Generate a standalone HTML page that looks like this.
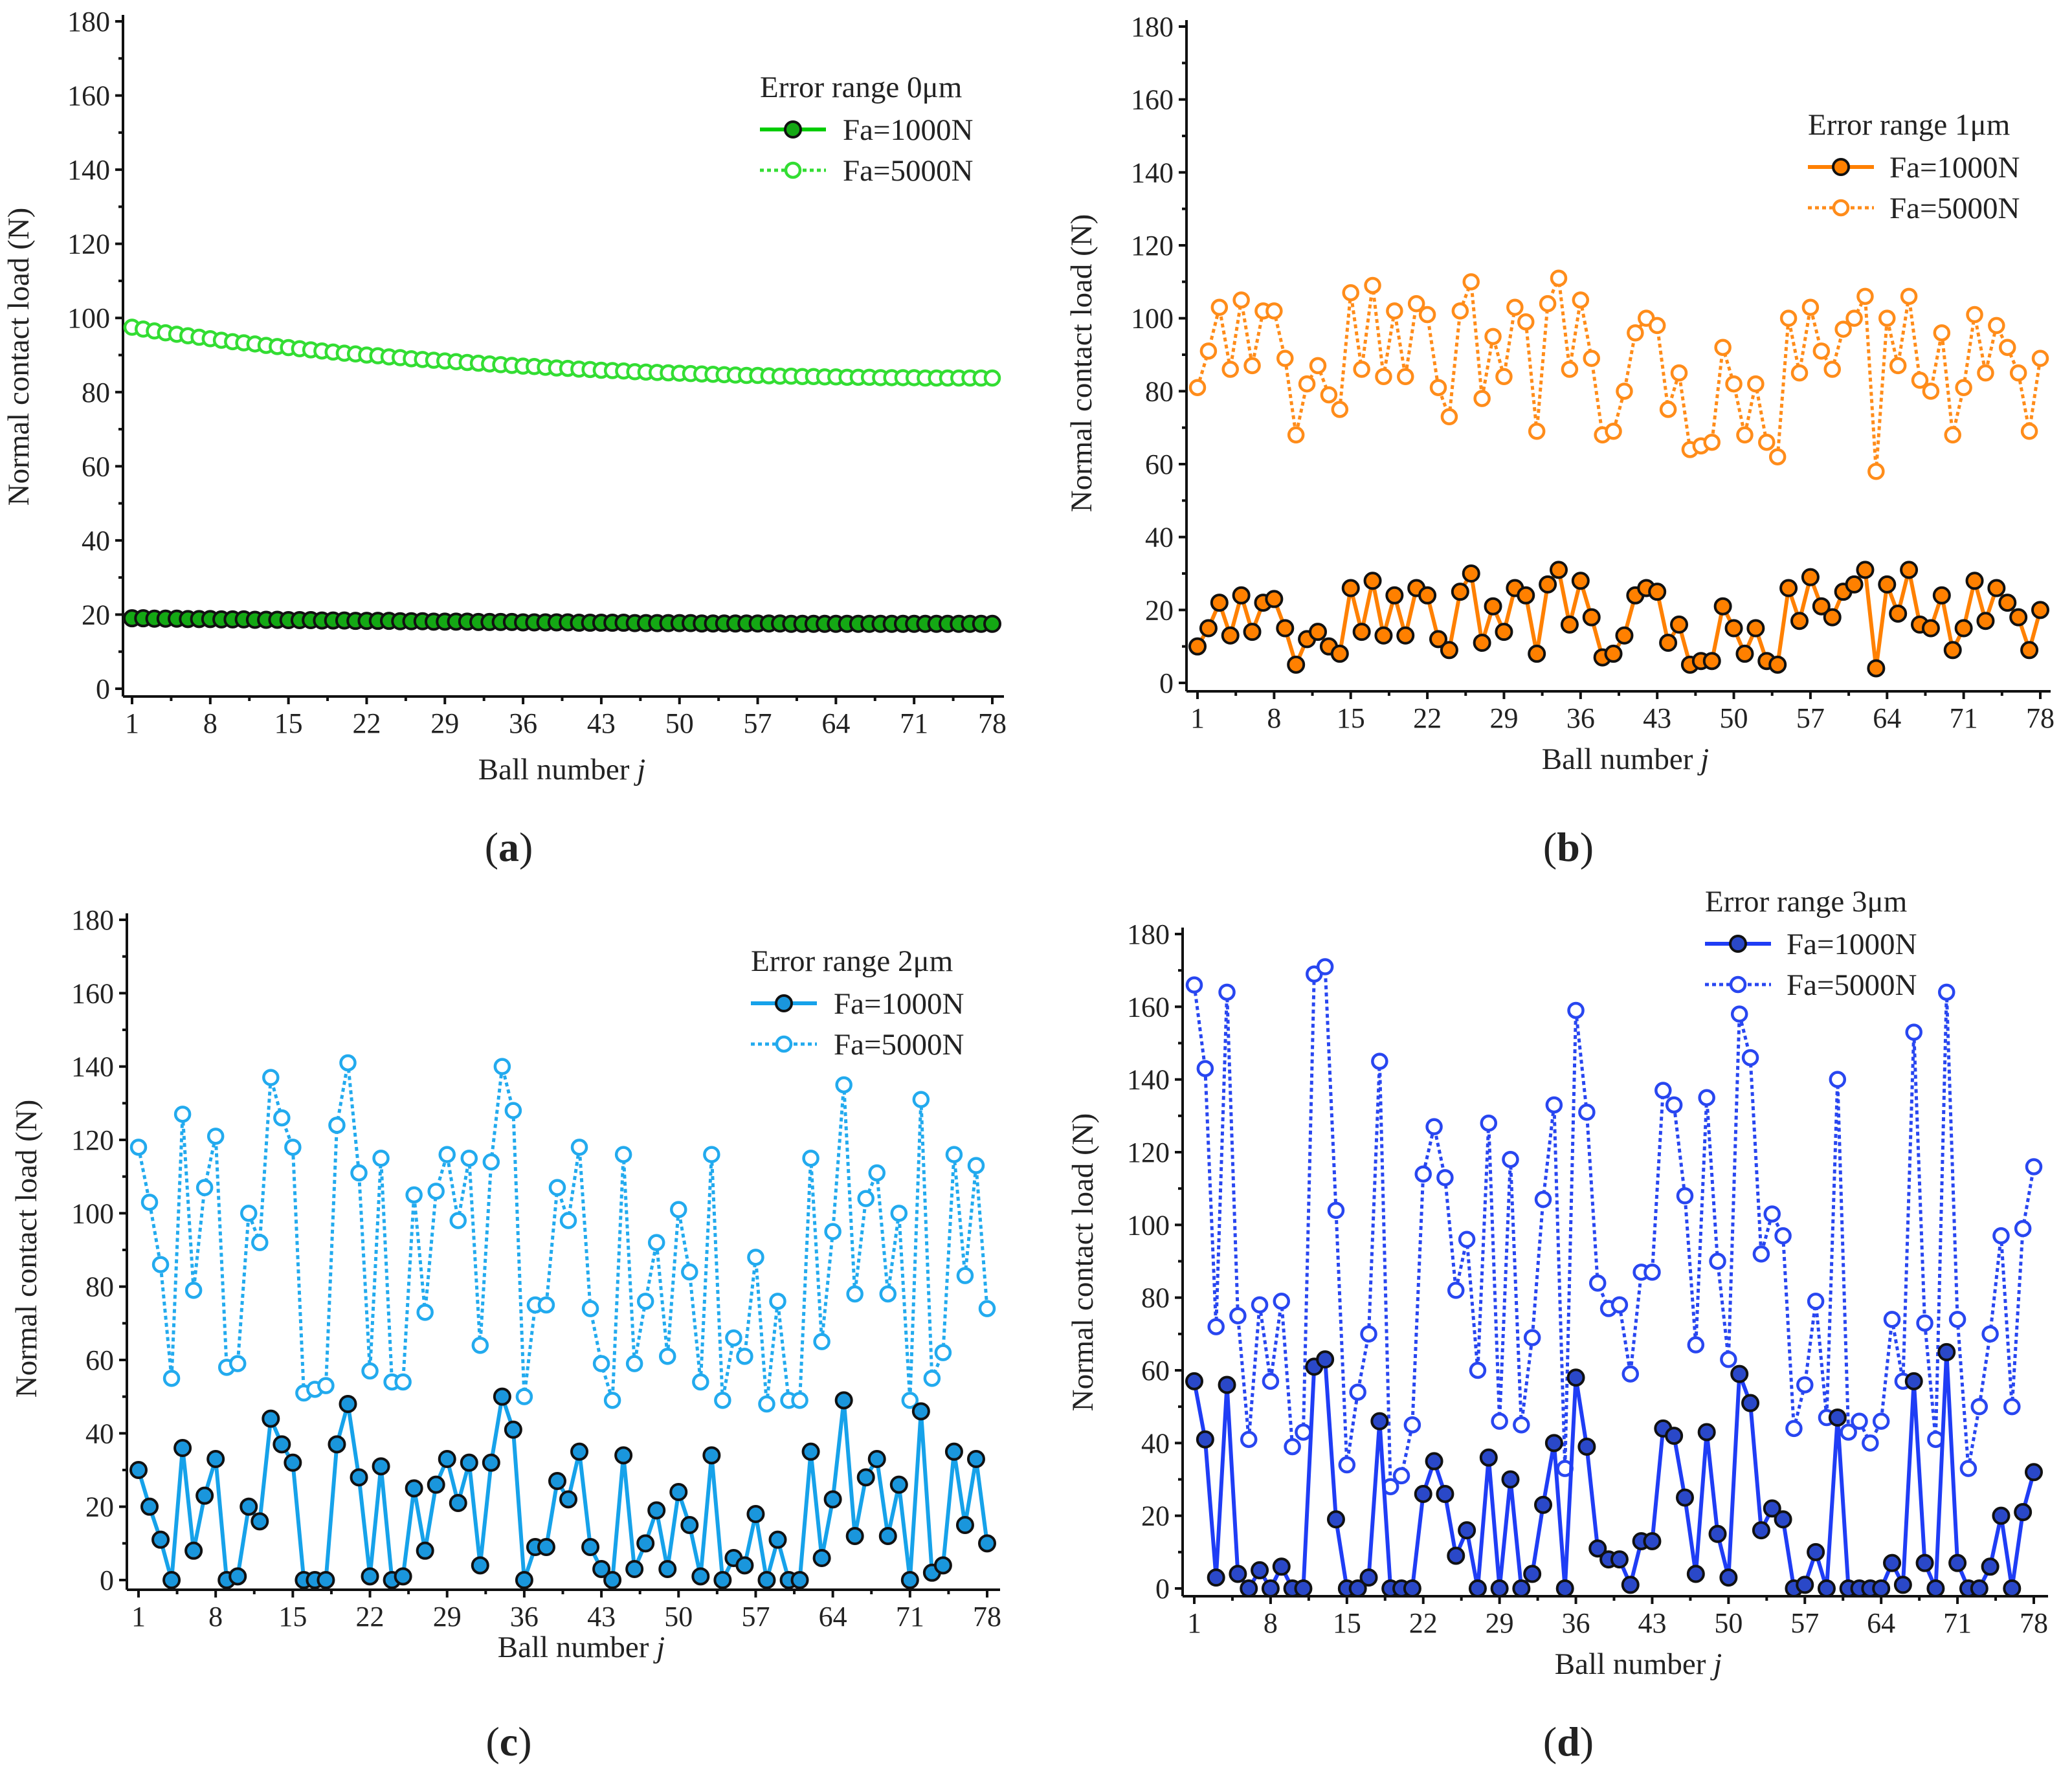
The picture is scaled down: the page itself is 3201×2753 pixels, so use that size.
<!DOCTYPE html>
<html><head><meta charset="utf-8"><style>
html,body{margin:0;padding:0;background:#fff}
svg{display:block}
text{font-family:"Liberation Serif",serif;fill:#222}
</style></head><body>
<svg id="chart" width="3201" height="2753" viewBox="0 0 3201 2753" xmlns="http://www.w3.org/2000/svg"></svg>
<script>
const xTicks=[1,8,15,22,29,36,43,50,57,64,71,78];
const yTicks=[0,20,40,60,80,100,120,140,160,180];
const aLow=[19.0,19.0,18.9,18.9,18.9,18.8,18.8,18.8,18.7,18.7,18.7,18.6,18.6,18.6,18.5,18.5,18.5,18.4,18.4,18.4,18.3,18.3,18.3,18.3,18.2,18.2,18.2,18.1,18.1,18.1,18.1,18.0,18.0,18.0,18.0,17.9,17.9,17.9,17.9,17.9,17.8,17.8,17.8,17.8,17.8,17.7,17.7,17.7,17.7,17.7,17.7,17.6,17.6,17.6,17.6,17.6,17.6,17.6,17.6,17.5,17.5,17.5,17.5,17.5,17.5,17.5,17.5,17.5,17.5,17.5,17.5,17.5,17.5,17.5,17.5,17.5,17.5,17.5];
const aHigh=[97.5,97.0,96.5,96.0,95.6,95.2,94.8,94.4,94.0,93.6,93.3,93.0,92.6,92.3,92.0,91.7,91.4,91.1,90.8,90.5,90.3,90.0,89.8,89.5,89.3,89.0,88.8,88.6,88.4,88.2,88.0,87.8,87.6,87.4,87.2,87.0,86.9,86.7,86.5,86.4,86.2,86.1,85.9,85.8,85.7,85.5,85.4,85.3,85.2,85.1,85.0,84.9,84.8,84.7,84.6,84.5,84.5,84.4,84.3,84.3,84.2,84.2,84.1,84.1,84.0,84.0,84.0,83.9,83.9,83.9,83.9,83.8,83.8,83.8,83.8,83.8,83.8,83.8];
const bLow=[10,15,22,13,24,14,22,23,15,5,12,14,10,8,26,14,28,13,24,13,26,24,12,9,25,30,11,21,14,26,24,8,27,31,16,28,18,7,8,13,24,26,25,11,16,5,6,6,21,15,8,15,6,5,26,17,29,21,18,25,27,31,4,27,19,31,16,15,24,9,15,28,17,26,22,18,9,20];
const bHigh=[81,91,103,86,105,87,102,102,89,68,82,87,79,75,107,86,109,84,102,84,104,101,81,73,102,110,78,95,84,103,99,69,104,111,86,105,89,68,69,80,96,100,98,75,85,64,65,66,92,82,68,82,66,62,100,85,103,91,86,97,100,106,58,100,87,106,83,80,96,68,81,101,85,98,92,85,69,89];
const cLow=[30,20,11,0,36,8,23,33,0,1,20,16,44,37,32,0,0,0,37,48,28,1,31,0,1,25,8,26,33,21,32,4,32,50,41,0,9,9,27,22,35,9,3,0,34,3,10,19,3,24,15,1,34,0,6,4,18,0,11,0,0,35,6,22,49,12,28,33,12,26,0,46,2,4,35,15,33,10];
const cHigh=[118,103,86,55,127,79,107,121,58,59,100,92,137,126,118,51,52,53,124,141,111,57,115,54,54,105,73,106,116,98,115,64,114,140,128,50,75,75,107,98,118,74,59,49,116,59,76,92,61,101,84,54,116,49,66,61,88,48,76,49,49,115,65,95,135,78,104,111,78,100,49,131,55,62,116,83,113,74];
const dLow=[57,41,3,56,4,0,5,0,6,0,0,61,63,19,0,0,3,46,0,0,0,26,35,26,9,16,0,36,0,30,0,4,23,40,0,58,39,11,8,8,1,13,13,44,42,25,4,43,15,3,59,51,16,22,19,0,1,10,0,47,0,0,0,0,7,1,57,7,0,65,7,0,0,6,20,0,21,32];
const dHigh=[166,143,72,164,75,41,78,57,79,39,43,169,171,104,34,54,70,145,28,31,45,114,127,113,82,96,60,128,46,118,45,69,107,133,33,159,131,84,77,78,59,87,87,137,133,108,67,135,90,63,158,146,92,103,97,44,56,79,47,140,43,46,40,46,74,57,153,73,41,164,74,33,50,70,97,50,99,116];
const legendTitles=["Error range  0μm","Error range 1μm","Error range 2μm","Error range 3μm"];

const NS="http://www.w3.org/2000/svg";
const svg=document.getElementById('chart');
function el(tag,attrs,parent,txt){const e=document.createElementNS(NS,tag);for(const k in attrs)e.setAttribute(k,attrs[k]);if(txt!==undefined)e.textContent=txt;(parent||svg).appendChild(e);return e;}

const panels=[
 {id:'a',low:aLow,high:aHigh,x1:204,x78:1533,y0:1064,y180:33,ax:190,ay:1076,ar:1551,line:'#00cc00',fill:'#14a814',open:'#33dd33',lab:[786,1330],yt:[44,551],xt:[868,1204],leg:[1174,150,1302]},
 {id:'b',low:bLow,high:bHigh,x1:1850,x78:3152,y0:1055,y180:41,ax:1833,ay:1068,ar:3168,line:'#ff8000',fill:'#ff8000',open:'#ff8c1a',lab:[2423,1330],yt:[1686,561],xt:[2511,1188],leg:[2793,208,2919]},
 {id:'c',low:cLow,high:cHigh,x1:214,x78:1525,y0:2441,y180:1421,ax:196,ay:2456,ar:1545,line:'#16a2ea',fill:'#1a96dc',open:'#22aaee',lab:[786,2712],yt:[56,1929],xt:[898,2560],leg:[1160,1500,1288]},
 {id:'d',low:dLow,high:dHigh,x1:1845,x78:3142,y0:2454,y180:1443,ax:1827,ay:2466,ar:3164,line:'#1f3df5',fill:'#2a48c8',open:'#2846f0',lab:[2423,2712],yt:[1688,1950],xt:[2531,2586],leg:[2634,1408,2760]}
];

panels.forEach((p,pi)=>{
  const g=el('g',{});
  
  
  const X=j=>p.x1+(j-1)*(p.x78-p.x1)/77;
  const Y=v=>p.y0+(p.y180-p.y0)*v/180;
  const top=Y(180)-10;
  const ya=el('line',{x1:p.ax,y1:top,x2:p.ax,y2:p.ay,stroke:'#111','stroke-width':4},g);
  
  
  const xa=el('line',{x1:p.ax,y1:p.ay,x2:p.ar,y2:p.ay,stroke:'#111','stroke-width':4},g);
  
  
  yTicks.forEach((t,i)=>{
    el('line',{x1:p.ax-12,y1:Y(t),x2:p.ax,y2:Y(t),stroke:'#111','stroke-width':4},g);
    if(i<yTicks.length-1) el('line',{x1:p.ax-7,y1:Y(t+10),x2:p.ax,y2:Y(t+10),stroke:'#111','stroke-width':4},g);
    const tl=el('text',{x:p.ax-20,y:Y(t)+15,'text-anchor':'end','font-size':44},g,String(t));
    
    
  });
  xTicks.forEach((t,i)=>{
    el('line',{x1:X(t),y1:p.ay,x2:X(t),y2:p.ay+12,stroke:'#111','stroke-width':4},g);
    if(i<xTicks.length-1) el('line',{x1:X(t+3.5),y1:p.ay,x2:X(t+3.5),y2:p.ay+7,stroke:'#111','stroke-width':4},g);
    const tl=el('text',{x:X(t),y:p.ay+56,'text-anchor':'middle','font-size':44},g,String(t));
    
    
  });
  const yt=el('text',{x:p.yt[0],y:p.yt[1],'text-anchor':'middle','font-size':47,transform:`rotate(-90 ${p.yt[0]} ${p.yt[1]})`},g,'Normal contact load (N)');
  
  
  const xt=el('text',{x:p.xt[0],y:p.xt[1],'text-anchor':'middle','font-size':47},g);
  
  
  el('tspan',{},xt,'Ball number  ');
  el('tspan',{'font-style':'italic'},xt,'j');
  const pl=el('text',{x:p.lab[0],y:p.lab[1],'text-anchor':'middle','font-size':64},g);
  
  
  el('tspan',{},pl,'(');el('tspan',{'font-weight':'bold'},pl,p.id);el('tspan',{},pl,')');
  const hp=p.high.map((v,i)=>X(i+1)+','+Y(v)).join(' ');
  const hl=el('polyline',{points:hp,fill:'none',stroke:p.open,'stroke-width':5,'stroke-dasharray':'6,5'},g);
  
  
  p.high.forEach((v,i)=>{
    const c=el('circle',{cx:X(i+1),cy:Y(v),r:11,fill:'#fff',stroke:p.open,'stroke-width':4.5},g);
    
    
  });
  const lp=p.low.map((v,i)=>X(i+1)+','+Y(v)).join(' ');
  const ll=el('polyline',{points:lp,fill:'none',stroke:p.line,'stroke-width':6},g);
  
  
  p.low.forEach((v,i)=>{
    const c=el('circle',{cx:X(i+1),cy:Y(v),r:12,fill:p.fill,stroke:'#111','stroke-width':4},g);
    
    
  });
  const [lx,ly,tx]=p.leg;
  const lg=el('g',{},g);
  
  
  const lt=el('text',{x:lx,y:ly,'font-size':47},lg,legendTitles[pi]);
  
  
  const e1y=ly+50, e2y=ly+113;
  el('line',{x1:lx,y1:e1y,x2:lx+102,y2:e1y,stroke:p.line,'stroke-width':6},lg);
  el('circle',{cx:lx+51,cy:e1y,r:12,fill:p.fill,stroke:'#111','stroke-width':4},lg);
  const t1=el('text',{x:tx,y:e1y+16,'font-size':47},lg,'Fa=1000N');
  
  
  el('line',{x1:lx,y1:e2y,x2:lx+102,y2:e2y,stroke:p.open,'stroke-width':5,'stroke-dasharray':'6,5'},lg);
  el('circle',{cx:lx+51,cy:e2y,r:11,fill:'#fff',stroke:p.open,'stroke-width':4.5},lg);
  const t2=el('text',{x:tx,y:e2y+16,'font-size':47},lg,'Fa=5000N');
  
  
});
</script>
</body></html>
